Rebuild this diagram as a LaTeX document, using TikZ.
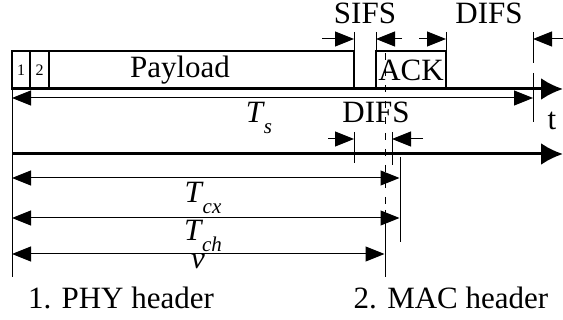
\documentclass[tikz,border=0pt]{standalone}
\usepackage{fontspec}
\setmainfont{Liberation Serif}
\usetikzlibrary{arrows.meta, positioning}
\newcommand{\bigfont}{\fontsize{31}{31}\selectfont}
\newcommand{\timesub}[2]{\textit{#1}\kern-1pt\raisebox{-0.38em}{\fontsize{21}{21}\selectfont\textit{#2}}}
\tikzset{
    frame/.style = {draw, line width=1.5pt, inner sep=0pt, outer sep=0pt, minimum height=38pt, anchor=south west},
    lbl/.style = {inner sep=0pt, font=\bigfont},
    small/.style = {inner sep=0pt, font=\fontsize{16}{16}\selectfont},
    axis/.style = {line width=3pt, -{Latex[length=22pt,width=22pt]}},
    dim/.style = {line width=1pt, -{Triangle[length=19pt,width=15pt]}},
    twodim/.style = {dim, {Triangle[length=19pt,width=15pt]}-{Triangle[length=19pt,width=15pt]}},
    tick/.style = {line width=1pt},
}
\begin{document}
\begin{tikzpicture}[x=1pt, y=-1pt]
            \useasboundingbox (0,0) rectangle (563,320);
            % packet boxes
            \node (ph1) [frame, minimum width=18pt] at (12,89) {};
            \node (ph2) [frame, minimum width=19pt, right=0pt of ph1] {};
            \node (payload) [frame, minimum width=305pt, right=0pt of ph2] {};
            \node (ack) [frame, minimum width=70pt] at (376,89) {};
            \node [small] at (ph1) {1};
            \node [small] at (ph2) {2};
            \node (paytxt) [lbl] at (180,70) {Payload};
            \node (acktxt) [lbl] at (ack) {ACK};
            % time axes
            \coordinate (a1s) at (12,89);
            \coordinate (a1e) at (563,89);
            \coordinate (a2s) at (12,154);
            \coordinate (a2e) at (563,154);
            \draw [axis] (a1s) -- (a1e);
            \draw [axis] (a2s) -- (a2e);
            % ticks
            \foreach \name/\x/\ya/\yb in {l/12/51/277, sa/354/32/89, sb/376/32/89, ka/446/32/89,
                    da/533/32/63, db/533/73/122, ea/354/132/163, eb/392/132/165,
                    cx/400/157/242, vv/385/210/277} {
                \coordinate (\name top) at (\x,\ya);
                \coordinate (\name bot) at (\x,\yb);
                \draw [tick] (\name top) -- (\name bot);
            }
            \coordinate (dtop) at (385,53);
            \draw [tick, dash pattern=on 7pt off 9pt] (dtop) -- (vvtop);
            % interval arrows
            \foreach \name/\xa/\xb/\y in {sifsl/322/354/39, sifsr/402/376/39, ackr/419/446/39,
                    difst/563/533/39, difsl/328/354/139, difsr/423/392/139} {
                \coordinate (\name a) at (\xa,\y);
                \coordinate (\name b) at (\xb,\y);
                \draw [dim] (\name a) -- (\name b);
            }
            \foreach \name/\xb/\y in {ts/533/98, tcx/399.5/178, tch/399.5/218, v/384.5/254} {
                \coordinate (\name a) at (12,\y);
                \coordinate (\name b) at (\xb,\y);
                \draw [twodim] (\name a) -- (\name b);
            }
            % labels
            \node (sifs) [lbl] at (365,13) {SIFS};
            \node (difs) [lbl] at (489,13) {DIFS};
            \node (difs2) [lbl] at (376,112) {DIFS};
            \node (t) [lbl] at (552,121) {t};
            \node (tslbl) [lbl] at (259,118) {\timesub{T}{s}};
            \node (tcxlbl) [lbl] at (203,198) {\timesub{T}{cx}};
            \node (tchlbl) [lbl] at (203,236) {\timesub{T}{ch}};
            \node (vlbl) [lbl] at (198,262) {\textit{v}};
            \node (phy) [lbl] at (121,298) {1. PHY header};
            \node (mac) [lbl] at (451,298) {2. MAC header};
\end{tikzpicture}
\end{document}
